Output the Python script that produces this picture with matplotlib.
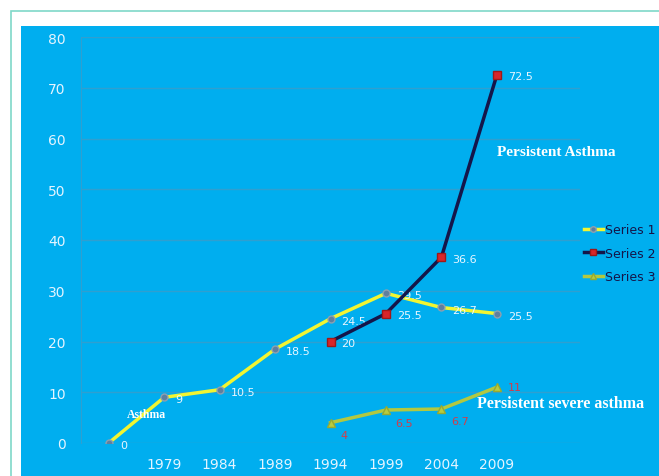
import matplotlib.pyplot as plt
from matplotlib.patches import Rectangle
from matplotlib.lines import Line2D

# category labels (first and last slots are blank)
years = ['', '1979', '1984', '1989', '1994', '1999', '2004', '2009', '']
series1 = [0, 9, 10.5, 18.5, 24.5, 29.5, 26.7, 25.5]
series2 = [20, 25.5, 36.6, 72.5]
series3 = [4, 6.5, 6.7, 11]
x1 = list(range(len(series1)))
x23 = [4, 5, 6, 7]

W, H = 659, 477
fig = plt.figure(figsize=(W / 100, H / 100), dpi=100)
fig.patch.set_facecolor('white')

# teal frame and blue slide background
fig.patches.append(Rectangle((11 / W, -0.1), 1.2, 1 - 12 / H + 0.1, transform=fig.transFigure,
                             facecolor='none', edgecolor='#7fd8c8', linewidth=1.2, zorder=-10))
fig.patches.append(Rectangle((21 / W, 0), 1, 1 - 27 / H, transform=fig.transFigure,
                             facecolor='#00aeef', edgecolor='none', zorder=-9))

ax = fig.add_axes([81 / W, 1 - 444 / H, (580 - 81) / W, (444 - 38) / H])
ax.set_facecolor('none')
ax.set_xlim(-0.5, 8.5)
ax.set_ylim(0, 80)
ax.set_yticks(range(0, 81, 10))
ax.set_xticks(range(len(years)))
ax.set_xticklabels(years)
ax.grid(axis='y', color='#2f9fd0', linewidth=1)
ax.set_axisbelow(True)
for s in ['top', 'right', 'bottom']:
    ax.spines[s].set_visible(False)
ax.spines['left'].set_color('#2f9fd0')
ax.tick_params(length=0, colors='#e4f4ff', labelsize=10, pad=11)
ax.tick_params(axis='x', pad=10)

ax.plot(x1, series1, color='#f2f531', linewidth=2.5, marker='o', markersize=5,
        markerfacecolor='#5f7f9f', markeredgecolor='#8da0b0', zorder=3)
ax.plot(x23, series2, color='#14164a', linewidth=2.5, marker='s', markersize=6,
        markerfacecolor='#d8262a', markeredgecolor='#a01818', zorder=4)
ax.plot(x23, series3, color='#b3c840', linewidth=2.5, marker='^', markersize=6,
        markerfacecolor='#b8cc40', markeredgecolor='#98aa30', zorder=3)

for x, v in zip(x1, series1):
    ax.annotate(f'{v:g}', (x, v), xytext=(8, -1.5), textcoords='offset points',
                color='#e8f6ff', fontsize=8, va='center')
for x, v in zip(x23, series2):
    ax.annotate(f'{v:g}', (x, v), xytext=(8, -1), textcoords='offset points',
                color='#e8f6ff', fontsize=8, va='center')
for x, v in zip(x23, series3):
    off = (8, 0) if x == 7 else (7, -9)
    ax.annotate(f'{v:g}', (x, v), xytext=off, textcoords='offset points',
                color='#d23c4a', fontsize=8, va='center')

ax.text(0.33, 5.7, 'Asthma', color='white', fontsize=8.5, fontweight='bold',
        family='Liberation Serif', va='center')
ax.text(7.0, 57.5, 'Persistent Asthma', color='white', fontsize=11, fontweight='bold',
        family='Liberation Serif', va='center')
ax.text(6.64, 7.9, 'Persistent severe asthma', color='white', fontsize=11.5, fontweight='bold',
        family='Liberation Serif', va='center')

handles = [
    Line2D([], [], color='#f2f531', linewidth=2.5, marker='o', markersize=4,
           markerfacecolor='#5f7f9f', markeredgecolor='#8da0b0'),
    Line2D([], [], color='#14164a', linewidth=2.5, marker='s', markersize=5,
           markerfacecolor='#d8262a', markeredgecolor='#a01818'),
    Line2D([], [], color='#b3c840', linewidth=2.5, marker='^', markersize=5,
           markerfacecolor='#b8cc40', markeredgecolor='#98aa30'),
]
fig.legend(handles, ['Series 1', 'Series 2', 'Series 3'], loc='upper left',
           bbox_to_anchor=(584 / W, 1 - 224 / H), frameon=False, fontsize=9,
           handlelength=1.5, handletextpad=0.15, labelspacing=0.85, labelcolor='#14164a',
           borderaxespad=0, borderpad=0)

fig.savefig('out.png', dpi=100)
